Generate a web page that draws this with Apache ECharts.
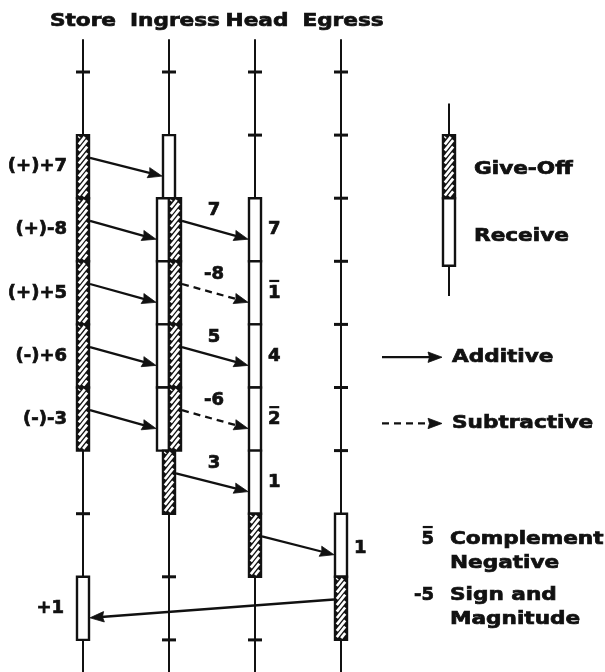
<!DOCTYPE html>
<html><head><meta charset="utf-8">
<script src="https://cdn.jsdelivr.net/npm/echarts@6/dist/echarts.min.js"></script>
<style>html,body{margin:0;padding:0;background:#fff}#c{width:605px;height:672px}</style>
</head><body><div id="c"></div>
<script>
// ---------------- data ----------------
const columns = ['Store', 'Ingress', 'Head', 'Egress'];
const rowTicks = [0, 1, 2, 3, 4, 5, 6, 7, 8, 9];
const storeGiveOff = ['(+)+7', '(+)-8', '(+)+5', '(-)+6', '(-)-3'];
const transferred = ['7', '-8', '5', '-6', '3'];
// head results: [digit, complemented?]
const headResults = [['7', 0], ['1', 1], ['4', 0], ['2', 1], ['1', 0]];
const egressResults = ['1'];
const storeResults = ['+1'];
// segments: [column, startRow, endRow, role, lane]
const segments = [
  [0, 1, 2, 'give', 'mid'], [0, 2, 3, 'give', 'mid'], [0, 3, 4, 'give', 'mid'], [0, 4, 5, 'give', 'mid'], [0, 5, 6, 'give', 'mid'],
  [1, 1, 2, 'recv', 'mid'],
  [1, 2, 3, 'recv', 'left'], [1, 3, 4, 'recv', 'left'], [1, 4, 5, 'recv', 'left'], [1, 5, 6, 'recv', 'left'],
  [1, 2, 3, 'give', 'right'], [1, 3, 4, 'give', 'right'], [1, 4, 5, 'give', 'right'], [1, 5, 6, 'give', 'right'],
  [1, 6, 7, 'give', 'mid'],
  [2, 2, 3, 'recv', 'mid'], [2, 3, 4, 'recv', 'mid'], [2, 4, 5, 'recv', 'mid'], [2, 5, 6, 'recv', 'mid'], [2, 6, 7, 'recv', 'mid'],
  [2, 7, 8, 'give', 'mid'],
  [3, 7, 8, 'recv', 'mid'], [3, 8, 9, 'give', 'mid'],
  [0, 8, 9, 'recv', 'mid']
];
// transfers: [fromColumn, toColumn, row, kind]
const transfers = [
  [0, 1, 1, 'add'], [0, 1, 2, 'add'], [0, 1, 3, 'add'], [0, 1, 4, 'add'], [0, 1, 5, 'add'],
  [1, 2, 2, 'add'], [1, 2, 3, 'sub'], [1, 2, 4, 'add'], [1, 2, 5, 'sub'], [1, 2, 6, 'add'],
  [2, 3, 7, 'add'], [3, 0, 8, 'add']
];
const legendRoles = ['Give-Off', 'Receive'];
const legendArrows = ['Additive', 'Subtractive'];
// notations: [symbol, complemented?, line 1, line 2]
const notations = [['5', 1, 'Complement', 'Negative'], ['-5', 0, 'Sign and', 'Magnitude']];

// ---------------- layout / style ----------------
const INK = '#111';
const FSIZE = 18;
const WORD_SX = 1.2;
const PX_X0 = 83, PX_COL = 86, PX_Y0 = 72, PX_ROW = 63.1, W = 605, H = 672;
const XMIN = -PX_X0 / PX_COL, XMAX = (W - PX_X0) / PX_COL;
const YMIN = -PX_Y0 / PX_ROW, YMAX = (H - PX_Y0) / PX_ROW;
const LANES = { mid: [-6, 6], left: [-12, 0], right: [0, 12] };
const LINE_TOP = -0.52, LINE_BOTTOM = 9.7, HEADER_ROW = -0.8;
const HEADER_DX = [0, 6, 2, 2];
const LEG_COL = (449 - PX_X0) / PX_COL;

function txt(x, y, text, align, sx) {
  return { type: 'text', x: x, y: y, scaleX: sx || 1,
    style: { text: text, fontSize: FSIZE, fontWeight: 'bold', fontFamily: 'DejaVu Sans', fill: INK,
      stroke: INK, lineWidth: 0.7,
      align: align, verticalAlign: 'middle', textAlign: align, textVerticalAlign: 'middle' } };
}
// digit with an over-bar (complement notation)
function barredTxt(x, y, text, align, barred) {
  const els = [txt(x, y, text, align)];
  if (barred) {
    const cw = 12.5;
    const cx = align === 'left' ? x + cw / 2 : (align === 'right' ? x - cw / 2 : x);
    els.push({ type: 'rect', shape: { x: cx - 5, y: y - 13, width: 10, height: 2.2 }, style: { fill: INK } });
  }
  return els;
}
function hatch(x0, y0, x1, y1) {
  const out = [], w = x1 - x0, s = 1.25, p = 6.4;
  for (let c = y0 + 1; c < y1 + s * w; c += p) {
    const tmin = Math.max(0, (c - y1) / (s * w)), tmax = Math.min(1, (c - y0) / (s * w));
    if (tmin >= tmax) continue;
    out.push({ type: 'line', shape: { x1: x0 + tmin * w, y1: c - tmin * s * w, x2: x0 + tmax * w, y2: c - tmax * s * w },
      style: { stroke: '#fff', lineWidth: 2.7 } });
  }
  return out;
}
function barEls(cx, y0, y1, role, lane) {
  const l = LANES[lane];
  const x0 = cx + l[0], x1 = cx + l[1];
  const els = [{ type: 'rect', shape: { x: x0, y: y0, width: x1 - x0, height: y1 - y0 },
    style: { fill: role === 'give' ? INK : '#fff', stroke: INK, lineWidth: 2.4 } }];
  if (role === 'give') els.push.apply(els, hatch(x0 + 1.8, y0 + 1.8, x1 - 1.8, y1 - 1.8));
  return els;
}
function arrowEls(x1, y1, x2, y2, dashed) {
  const dx = x2 - x1, dy = y2 - y1, L = Math.hypot(dx, dy), ux = dx / L, uy = dy / L;
  const HL = 14, HW = 5.2, bx = x2 - ux * HL, by = y2 - uy * HL;
  const lineStyle = { stroke: INK, lineWidth: 2.3 };
  if (dashed) lineStyle.lineDash = [7, 5];
  return [
    { type: 'line', shape: { x1: x1, y1: y1, x2: bx + ux * 3, y2: by + uy * 3 }, style: lineStyle },
    { type: 'polygon', shape: { points: [[x2, y2], [bx - uy * HW, by + ux * HW], [bx + ux * 1.5, by + uy * 1.5], [bx + uy * HW, by - ux * HW]] }, style: { fill: INK, stroke: INK, lineWidth: 0.8 } }
  ];
}
function extent(col, row) {
  let l = 0, r = 0;
  segments.forEach(function (s) {
    if (s[0] === col && s[1] <= row && row < s[2]) { l = Math.min(l, LANES[s[4]][0]); r = Math.max(r, LANES[s[4]][1]); }
  });
  return [l - 1, r + 1];
}
function covered(col, row) {
  return segments.some(function (s) { return s[0] === col && s[1] <= row && row <= s[2]; });
}

const chart = echarts.init(document.getElementById('c'), null, { renderer: 'canvas' });
const option = {
  animation: false,
  backgroundColor: '#fff',
  grid: { left: 0, right: 0, top: 0, bottom: 0 },
  xAxis: { type: 'value', min: XMIN, max: XMAX, show: false },
  yAxis: { type: 'value', min: YMIN, max: YMAX, inverse: true, show: false },
  series: [
    { // column lines, ticks, headers
      type: 'custom', silent: true, clip: false,
      data: columns.map(function (c, i) { return [i, LINE_TOP, LINE_BOTTOM]; }),
      encode: { x: 0, y: [1, 2] },
      renderItem: function (params, api) {
        const i = api.value(0);
        const a = api.coord([i, api.value(1)]), b = api.coord([i, api.value(2)]);
        const els = [{ type: 'line', shape: { x1: a[0], y1: a[1], x2: b[0], y2: b[1] }, style: { stroke: INK, lineWidth: 2 } }];
        rowTicks.forEach(function (r) {
          if (covered(i, r)) return;
          const p = api.coord([i, r]);
          els.push({ type: 'rect', shape: { x: p[0] - 7, y: p[1] - 1.5, width: 14, height: 3 }, style: { fill: INK } });
        });
        const h = api.coord([i, HEADER_ROW]);
        els.push(txt(h[0] + HEADER_DX[i], h[1], columns[i], 'center', WORD_SX));
        return { type: 'group', children: els };
      }
    },
    { // register segments
      type: 'custom', silent: true, clip: false,
      data: segments.map(function (s) { return [s[0], s[1], s[2]]; }),
      encode: { x: 0, y: [1, 2] },
      renderItem: function (params, api) {
        const s = segments[params.dataIndex];
        const a = api.coord([api.value(0), api.value(1)]), b = api.coord([api.value(0), api.value(2)]);
        return { type: 'group', children: barEls(a[0], a[1], b[1], s[3], s[4]) };
      }
    },
    { // transfers
      type: 'custom', silent: true, clip: false,
      data: transfers.map(function (t) { return [t[0], t[1], t[2]]; }),
      encode: { x: 0, y: 2 },
      renderItem: function (params, api) {
        const t = transfers[params.dataIndex];
        const from = t[0], to = t[1], row = t[2];
        const pa = api.coord([from, row + 0.36]), pb = api.coord([to, row + 0.65]);
        const ea = extent(from, row), eb = extent(to, row);
        let sx, ex;
        if (to > from) { sx = pa[0] + ea[1]; ex = pb[0] + eb[0]; } else { sx = pa[0] + ea[0]; ex = pb[0] + eb[1]; }
        return { type: 'group', children: arrowEls(sx, pa[1], ex, pb[1], t[3] === 'sub') };
      }
    },
    { // value labels
      type: 'custom', silent: true, clip: false,
      data: [[0, 0]],
      encode: { x: 0, y: 1 },
      renderItem: function (params, api) {
        const els = [];
        storeGiveOff.forEach(function (s, k) {
          const p = api.coord([0, k + 1.5]); els.push(txt(p[0] - 16, p[1], s, 'right'));
        });
        transferred.forEach(function (s, k) {
          const p = api.coord([1.5, k + 2.2]); els.push(txt(p[0] + 2, p[1], s, 'center'));
        });
        headResults.forEach(function (s, k) {
          const p = api.coord([2, k + 2.5]); els.push.apply(els, barredTxt(p[0] + 13, p[1], s[0], 'left', s[1]));
        });
        egressResults.forEach(function (s, k) {
          const p = api.coord([3, k + 7.55]); els.push(txt(p[0] + 13, p[1], s, 'left'));
        });
        storeResults.forEach(function (s, k) {
          const p = api.coord([0, k + 8.5]); els.push(txt(p[0] - 19, p[1], s, 'right'));
        });
        return { type: 'group', children: els };
      }
    },
    { // key
      type: 'custom', silent: true, clip: false,
      data: [[LEG_COL, 0]],
      encode: { x: 0, y: 1 },
      renderItem: function (params, api) {
        const els = [];
        const t = api.coord([LEG_COL, 0.5]), b = api.coord([LEG_COL, 3.55]);
        els.push({ type: 'line', shape: { x1: t[0], y1: t[1], x2: b[0], y2: b[1] }, style: { stroke: INK, lineWidth: 2 } });
        const g0 = api.coord([LEG_COL, 1]), g1 = api.coord([LEG_COL, 2]), g2 = api.coord([LEG_COL, 3.07]);
        els.push.apply(els, barEls(g0[0], g0[1], g1[1], 'give', 'mid'));
        els.push.apply(els, barEls(g1[0], g1[1], g2[1], 'recv', 'mid'));
        [1.55, 2.6].forEach(function (r, k) {
          const p = api.coord([LEG_COL, r]); els.push(txt(p[0] + 25, p[1], legendRoles[k], 'left', WORD_SX));
        });
        [4.52, 5.57].forEach(function (r, k) {
          const p = api.coord([LEG_COL, r]);
          els.push.apply(els, arrowEls(p[0] - 67, p[1], p[0] - 7, p[1], k === 1));
          els.push(txt(p[0] + 3, p[1], legendArrows[k], 'left', WORD_SX));
        });
        [[7.4, 7.78], [8.3, 8.68]].forEach(function (rr, k) {
          const p = api.coord([LEG_COL, rr[0]]), q = api.coord([LEG_COL, rr[1]]);
          els.push.apply(els, barredTxt(p[0] - 15, p[1], notations[k][0], 'right', notations[k][1]));
          els.push(txt(p[0] + 1, p[1], notations[k][2], 'left', WORD_SX));
          els.push(txt(q[0] + 1, q[1], notations[k][3], 'left', WORD_SX));
        });
        return { type: 'group', children: els };
      }
    }
  ]
};
chart.setOption(option);
</script>
</body></html>
